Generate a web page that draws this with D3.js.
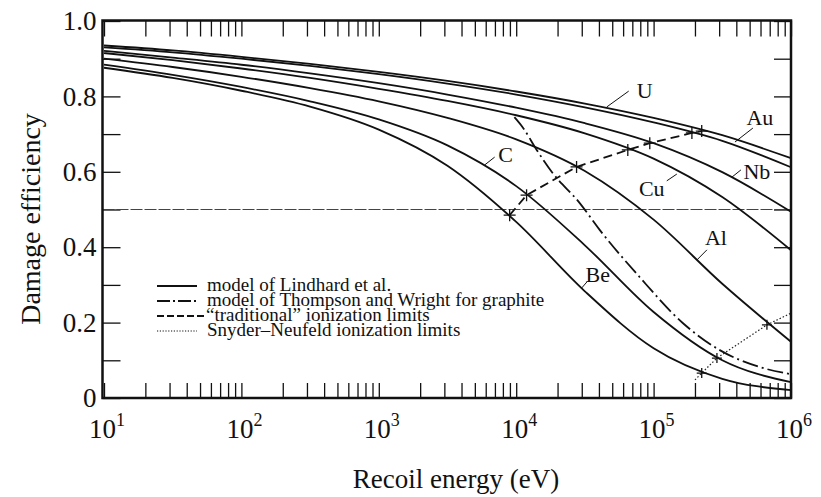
<!DOCTYPE html>
<html>
<head>
<meta charset="utf-8">
<script src="https://cdn.jsdelivr.net/npm/d3@7"></script>
<style>
  body { margin: 0; background: #fff; }
  svg { display: block; }
  svg text { font-family: "Liberation Serif", "Times New Roman", "DejaVu Serif", serif; }
</style>
</head>
<body>
<svg id="chart"></svg>
<script>
// Set data
const energies = [10, 31.6, 100, 316, 1000, 3160, 10000, 31600, 100000, 316000, 1000000];

const elementNames = ["U", "Au", "Nb", "Cu", "Al", "C", "Be"];
const effU  = [0.935, 0.922, 0.905, 0.886, 0.865, 0.841, 0.813, 0.781, 0.743, 0.697, 0.636];
const effAu = [0.930, 0.917, 0.900, 0.881, 0.859, 0.834, 0.805, 0.771, 0.731, 0.682, 0.612];
const effNb = [0.921, 0.903, 0.884, 0.861, 0.835, 0.805, 0.770, 0.729, 0.676, 0.599, 0.494];
const effCu = [0.915, 0.896, 0.874, 0.849, 0.820, 0.788, 0.750, 0.702, 0.635, 0.533, 0.392];
const effAl = [0.900, 0.878, 0.852, 0.822, 0.787, 0.743, 0.686, 0.602, 0.473, 0.303, 0.149];
const effC  = [0.884, 0.857, 0.825, 0.787, 0.739, 0.670, 0.562, 0.405, 0.228, 0.100, 0.042];
const effBe = [0.876, 0.849, 0.815, 0.773, 0.712, 0.616, 0.467, 0.283, 0.132, 0.051, 0.021];
const elementEffs = [effU, effAu, effNb, effCu, effAl, effC, effBe];

// "traditional" ionization limits (one cross per element, Be .. U)
const ionLimitE   = [8960, 11900, 27500, 64900, 93800, 190000, 224000];
const ionLimitEff = [0.485, 0.538, 0.613, 0.658, 0.676, 0.703, 0.708];

// Snyder-Neufeld ionization limits
const snyderE   = [200000, 224000, 289000, 668000, 1000000];
const snyderEff = [0.048, 0.066, 0.106, 0.194, 0.225];
const snyderCrossE   = [224000, 289000, 668000];
const snyderCrossEff = [0.066, 0.106, 0.194];

// Thompson and Wright, graphite
const graphiteE   = [9700, 11100, 14100, 18400, 29000, 40500, 79000, 163000, 303000, 594000, 1000000];
const graphiteEff = [0.745, 0.719, 0.658, 0.597, 0.517, 0.446, 0.321, 0.199, 0.127, 0.082, 0.063];

const referenceEff = 0.5;

const yTickLabels = [0, 0.2, 0.4, 0.6, 0.8, 1.0];
const xTickExponents = [1, 2, 3, 4, 5, 6];

const legendLabels = [
    "model of Lindhard et al.",
    "model of Thompson and Wright for graphite",
    "\u201Ctraditional\u201D ionization limits",
    "Snyder\u2013Neufeld ionization limits"
];

// label spots: [leader start E, eff], [leader end E, eff], [text E, eff]
const curveLabels = [
    {name: "U",  from: [45600, 0.772],  to: [65900, 0.814],  at: [86300, 0.817]},
    {name: "Au", from: [391000, 0.679], to: [528000, 0.716], at: [594000, 0.745]},
    {name: "Nb", from: [372000, 0.586], to: [432000, 0.605], at: [565000, 0.602]},
    {name: "Cu", from: [147600, 0.594], to: [124700, 0.576], at: [97000, 0.557]},
    {name: "Al", from: [206500, 0.366], to: [244400, 0.393], at: [284000, 0.427]},
    {name: "C",  from: [5890, 0.618],   to: [6970, 0.639],   at: [8380, 0.647]},
    {name: "Be", from: [30000, 0.292],  to: [33100, 0.310],  at: [39200, 0.329]}
];


// Set width and height
const width = 821;
const height = 497;
const frame = {left: 102.5, right: 791, top: 20.5, bottom: 398};
const serif = "Liberation Serif, Times New Roman, DejaVu Serif, serif";

const svg = d3.select("#chart")
    .attr("width", width)
    .attr("height", height)
    .attr("font-family", serif);

const x = d3.scaleLog().domain([10, 1e6]).range([104, 791]);
const y = d3.scaleLinear().domain([0, 1]).range([398, 21]);

const line = d3.line()
    .x(d => x(d[0]))
    .y(d => y(d[1]))
    .curve(d3.curveMonotoneX);

const zip = (xs, ys) => xs.map((v, i) => [v, ys[i]]);


// ticks, all pointing inward
const bottomTicks = svg.append("g")
    .attr("transform", `translate(0,${frame.bottom})`)
    .call(d3.axisBottom(x).tickValues(x.ticks()).tickSize(-15).tickFormat(""));
const topTicks = svg.append("g")
    .attr("transform", `translate(0,${frame.top})`)
    .call(d3.axisTop(x).tickValues(x.ticks()).tickSize(-16).tickFormat(""));
const leftTicks = svg.append("g")
    .attr("transform", `translate(${frame.left},0)`)
    .call(d3.axisLeft(y).ticks(10).tickSize(-18).tickFormat(""));
const rightTicks = svg.append("g")
    .attr("transform", `translate(${frame.right},0)`)
    .call(d3.axisRight(y).ticks(10).tickSize(-17).tickFormat(""));

for (const g of [bottomTicks, topTicks, leftTicks, rightTicks]) {
    g.select(".domain").remove();
    g.selectAll(".tick line").attr("stroke", "#111").attr("stroke-width", 1.3);
}

// y tick labels
svg.append("g")
    .attr("transform", `translate(${frame.left},0)`)
    .call(d3.axisLeft(y).tickValues(yTickLabels).tickSize(0).tickPadding(6)
        .tickFormat(d => d === 0 ? "0" : d3.format(".1f")(d)))
    .attr("font-family", serif)
    .call(g => g.select(".domain").remove())
    .selectAll("text")
    .attr("font-family", serif)
    .attr("font-size", 27)
    .attr("fill", "#111");

// x tick labels 10^n
const xLabels = svg.append("g").selectAll("text")
    .data(xTickExponents)
    .join("text")
    .attr("x", d => x(Math.pow(10, d)) + 3)
    .attr("y", 438)
    .attr("text-anchor", "middle")
    .attr("font-family", serif)
    .attr("font-size", 27)
    .attr("fill", "#111");
xLabels.append("tspan").text("10");
xLabels.append("tspan").attr("dy", -12).attr("font-size", 18).text(d => d);

// axis titles
svg.append("text")
    .attr("x", 456).attr("y", 488)
    .attr("text-anchor", "middle")
    .attr("font-family", serif)
    .attr("font-size", 27)
    .attr("fill", "#111")
    .text("Recoil energy (eV)");

svg.append("text")
    .attr("transform", "translate(30,219) rotate(-90)")
    .attr("text-anchor", "middle")
    .attr("dominant-baseline", "central")
    .attr("font-family", serif)
    .attr("font-size", 28)
    .attr("fill", "#111")
    .text("Damage efficiency");


// reference line at 0.5
svg.append("line")
    .attr("x1", frame.left).attr("x2", frame.right)
    .attr("y1", y(referenceEff)).attr("y2", y(referenceEff))
    .attr("stroke", "#444")
    .attr("stroke-width", 1)
    .attr("stroke-dasharray", "12,2");

// Lindhard curves
svg.append("g").selectAll("path")
    .data(elementEffs)
    .join("path")
    .attr("d", d => line(zip(energies, d)))
    .attr("fill", "none")
    .attr("stroke", "#111")
    .attr("stroke-width", 1.8);

// graphite, dash-dot
svg.append("path")
    .attr("d", line(zip(graphiteE, graphiteEff)))
    .attr("fill", "none")
    .attr("stroke", "#111")
    .attr("stroke-width", 1.8)
    .attr("stroke-dasharray", "16,4,2,4");

// ionization limits
const straight = d3.line().x(d => x(d[0])).y(d => y(d[1]));
svg.append("path")
    .attr("d", straight(zip(ionLimitE, ionLimitEff)))
    .attr("fill", "none")
    .attr("stroke", "#111")
    .attr("stroke-width", 1.8)
    .attr("stroke-dasharray", "9,5");

svg.append("path")
    .attr("d", straight(zip(snyderE, snyderEff)))
    .attr("fill", "none")
    .attr("stroke", "#222")
    .attr("stroke-width", 1.2)
    .attr("stroke-dasharray", "1.5,2");

const drawCross = function(pts, arm){
    const g = svg.append("g").attr("stroke", "#111").attr("stroke-width", 1.3);
    g.selectAll("path")
        .data(pts)
        .join("path")
        .attr("d", d => {
            const cx = x(d[0]), cy = y(d[1]);
            return `M${cx - arm},${cy}H${cx + arm}M${cx},${cy - arm}V${cy + arm}`;
        });
}
drawCross(zip(ionLimitE, ionLimitEff), 6);
drawCross(zip(snyderCrossE, snyderCrossEff), 5);

// curve labels
const labels = svg.append("g").selectAll("g")
    .data(curveLabels)
    .join("g");
labels.append("line")
    .attr("x1", d => x(d.from[0])).attr("y1", d => y(d.from[1]))
    .attr("x2", d => x(d.to[0])).attr("y2", d => y(d.to[1]))
    .attr("stroke", "#111")
    .attr("stroke-width", 1);
labels.append("text")
    .attr("x", d => x(d.at[0]))
    .attr("y", d => y(d.at[1]))
    .attr("dy", "0.35em")
    .attr("text-anchor", "middle")
    .attr("font-family", serif)
    .attr("font-size", 22)
    .attr("fill", "#111")
    .text(d => d.name);


// legend
const legendDash = ["", "13,3,2,3", "7,3", "1.2,1.6"];
const legend = svg.append("g").selectAll("g")
    .data(legendLabels)
    .join("g")
    .attr("transform", (d, i) => `translate(157,${291 + i * 15})`);
legend.append("line")
    .attr("x1", 0).attr("x2", (d, i) => i === 2 ? 48 : 40)
    .attr("y1", -5).attr("y2", -5)
    .attr("stroke", "#111")
    .attr("stroke-width", (d, i) => i === 3 ? 1.2 : 1.8)
    .attr("stroke-dasharray", (d, i) => legendDash[i]);
legend.append("text")
    .attr("x", (d, i) => i === 2 ? 49 : 50)
    .attr("y", 0)
    .attr("font-family", serif)
    .attr("font-size", 19)
    .attr("fill", "#111")
    .text(d => d);


// frame
svg.append("rect")
    .attr("x", frame.left).attr("y", frame.top)
    .attr("width", frame.right - frame.left)
    .attr("height", frame.bottom - frame.top)
    .attr("fill", "none")
    .attr("stroke", "#111")
    .attr("stroke-width", 2.5);
</script>
</body>
</html>
